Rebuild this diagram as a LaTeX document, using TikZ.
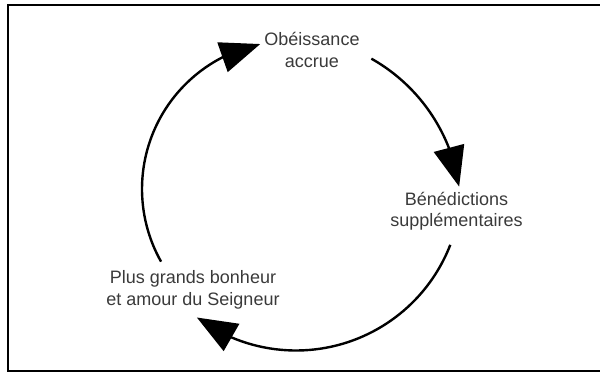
\documentclass[tikz,border=0pt]{standalone}
\usepackage{fontspec}
\setmainfont{Liberation Sans}
\usetikzlibrary{arrows.meta,bending}
\definecolor{txtgray}{HTML}{3A3A3A}
\tikzset{
  label/.style={align=center, text=txtgray, inner sep=0pt,
    font=\fontsize{18}{21.5}\selectfont},
  conn/.style={line width=2.4pt, -{Triangle[length=40pt,width=31pt]}},
  frame/.style={line width=1.4pt}
}
\begin{document}
\begin{tikzpicture}[x=1pt,y=1pt]
\useasboundingbox (0,0) rectangle (600,373);
\draw[frame] (602,368) -- (8,368) -- (8,2) -- (602,2);
\node[label] (obe) at (312,323) {Obéissance\\accrue};
\node[label] (ben) at (456.5,162) {Bénédictions\\supplémentaires};
\node[label] (plus) at (193,83) {Plus grands bonheur\\et amour du Seigneur};
\coordinate (r1) at ([shift={(285,161)}]60.6:176);
\coordinate (b1) at ([shift={(296,188)}]-21.2:165.5);
\coordinate (l1) at ([shift={(290,184)}]209.4:148);
\draw[conn] (r1) arc[start angle=60.6, end angle=8.3, radius=176];
\draw[conn] (b1) arc[start angle=-21.2, end angle=-126.8, radius=165.5];
\draw[conn] (l1) arc[start angle=209.4, end angle=101.6, radius=148];
\end{tikzpicture}
\end{document}
